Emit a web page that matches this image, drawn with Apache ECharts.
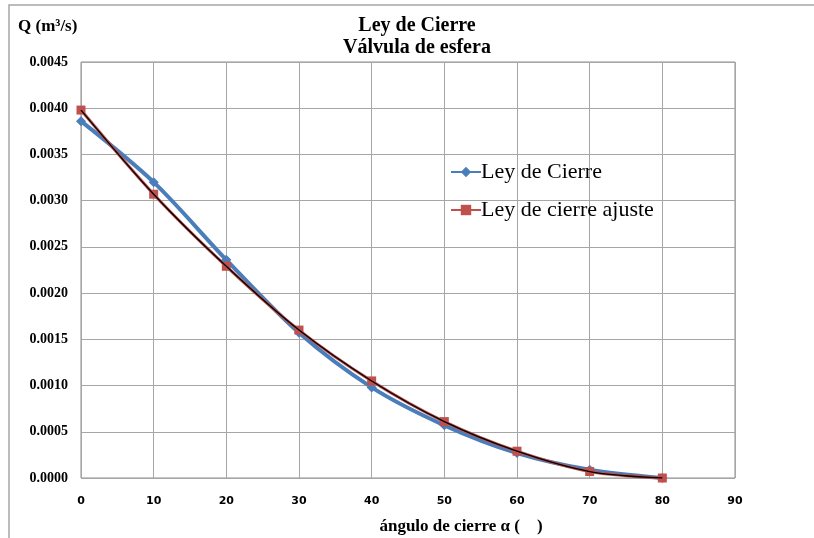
<!DOCTYPE html>
<html>
<head>
<meta charset="utf-8">
<script src="https://cdn.jsdelivr.net/npm/echarts@6/dist/echarts.min.js"></script>
<style>
  html, body { margin: 0; padding: 0; background: #fff; }
  #chart { width: 814px; height: 538px; }
</style>
</head>
<body>
<div id="chart"></div>
<script>
// Closing angle (degrees) and measured / fitted discharge (m³/s)
const angles = [0, 10, 20, 30, 40, 50, 60, 70, 80];
const leyCierre = [0.00386, 0.00320, 0.00236, 0.00157, 0.00098, 0.00057, 0.00027, 0.00009, 0.00000];
const leyAjuste = [0.00398, 0.00307, 0.00229, 0.00160, 0.00105, 0.00061, 0.00029, 0.00007, 0.00000];

const xTicks = { min: 0, max: 90, interval: 10 };
const yTicks = { min: 0, max: 0.0045, interval: 0.0005 };

const titleLines = ['Ley de Cierre', 'Válvula de esfera'];
const yAxisTitle = 'Q (m³/s)';
const xAxisTitle = 'ángulo de cierre α (    )';
const seriesNames = ['Ley de Cierre', 'Ley de cierre ajuste'];

const pairs = (ys) => angles.map((a, i) => [a, ys[i]]);
const serif = '"Liberation Serif", "Times New Roman", serif';

const chart = echarts.init(document.getElementById('chart'), null, { renderer: 'canvas' });

chart.setOption({
  animation: false,
  backgroundColor: '#fff',
  grid: { left: 81, top: 62, width: 654, height: 416, containLabel: false,
          show: true, borderColor: '#8c8c8c', borderWidth: 1 },
  xAxis: {
    type: 'value', min: xTicks.min, max: xTicks.max, interval: xTicks.interval,
    axisLine: { show: false },
    axisTick: { show: false },
    splitLine: { show: true, lineStyle: { color: '#a6a6a6', width: 1 } },
    axisLabel: { margin: 18, color: '#000', fontWeight: 'bold', fontSize: 11,
                 fontFamily: '"DejaVu Sans", sans-serif' }
  },
  yAxis: {
    type: 'value', min: yTicks.min, max: yTicks.max, interval: yTicks.interval,
    axisLine: { show: false },
    axisTick: { show: false },
    splitLine: { show: true, lineStyle: { color: '#a6a6a6', width: 1 } },
    axisLabel: { margin: 13, color: '#000', fontWeight: 'bold', fontSize: 14,
                 fontFamily: serif, formatter: (v) => v.toFixed(4) }
  },
  legend: {
    orient: 'vertical', left: 445, top: 156, itemGap: 16,
    itemWidth: 30, itemHeight: 13,
    textStyle: { fontFamily: serif, fontSize: 22, color: '#000', padding: [0, 0, 0, -5] },
    data: seriesNames
  },
  graphic: [
    { type: 'rect', shape: { x: 9, y: 5, width: 900, height: 700 },
      style: { fill: 'none', stroke: '#a6a6a6', lineWidth: 1.5 }, silent: true, z: -10 },
    { type: 'text', x: 417, y: 26, style: { text: titleLines[0], textAlign: 'center',
      textVerticalAlign: 'middle', font: 'bold 20px ' + serif, fill: '#000' } },
    { type: 'text', x: 417, y: 48, style: { text: titleLines[1], textAlign: 'center',
      textVerticalAlign: 'middle', font: 'bold 20px ' + serif, fill: '#000' } },
    { type: 'text', x: 18, y: 27, style: { text: yAxisTitle, textVerticalAlign: 'middle',
      font: 'bold 17px ' + serif, fill: '#000' } },
    { type: 'text', x: 461, y: 527, style: { text: xAxisTitle, textAlign: 'center',
      textVerticalAlign: 'middle', font: 'bold 17px ' + serif, fill: '#000' } }
  ],
  series: [
    {
      name: seriesNames[0], type: 'line', smooth: 0.3,
      data: pairs(leyCierre),
      symbol: 'diamond', symbolSize: 10,
      itemStyle: { color: '#4a7ebb' },
      lineStyle: { color: '#4a7ebb', width: 4 },
      z: 2
    },
    {
      name: seriesNames[1], type: 'line', smooth: 0.3,
      data: pairs(leyAjuste),
      symbol: 'rect', symbolSize: 9,
      itemStyle: { color: '#c0504d' },
      lineStyle: { color: '#c0504d', width: 3 },
      z: 3
    },
    {
      // polynomial trend drawn over the fitted series
      name: 'tendencia', type: 'line', smooth: 0.3,
      data: pairs(leyAjuste),
      symbol: 'none',
      lineStyle: { color: '#000', width: 1.3 },
      z: 4, silent: true
    }
  ]
});
</script>
</body>
</html>
